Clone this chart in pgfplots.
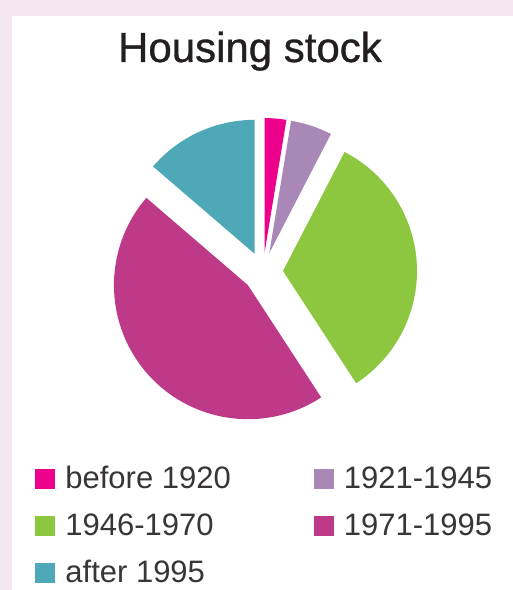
\documentclass[border=0pt]{standalone}
\usepackage{fontspec}
\setmainfont{Liberation Sans}
\newfontfamily\titlefont{Liberation Sans}[FakeBold=0.8]
\usepackage{pgfplots}
\usepackage{pgfplotstable}
\pgfplotsset{compat=1.18}

\definecolor{bgpink}{HTML}{F4E7F2}
\definecolor{txt}{HTML}{231F20}
\definecolor{c1}{HTML}{EC008C}
\definecolor{c2}{HTML}{A988B8}
\definecolor{c3}{HTML}{8DC63F}
\definecolor{c4}{HTML}{BE3A88}
\definecolor{c5}{HTML}{4FA8B8}

% share of housing stock by construction period (%)
\pgfplotstableread{
share colour
2.6   c1
5.0   c2
33.2  c3
45.5  c4
13.7  c5
}\housing

\begin{document}
\begin{tikzpicture}
\begin{axis}[
    at={(0,0)}, anchor=south west,
    scale only axis, width=256.5pt, height=295pt,
    xmin=0, xmax=513, ymin=0, ymax=590,
    hide axis, clip=false,
    title={Housing stock},
    title style={at={(0.4873,0.8746)}, anchor=base, font=\titlefont\fontsize{21}{25}\selectfont, text=txt, inner sep=0pt},
    legend columns=2,
    legend cell align=left,
    legend image code/.code={\fill[draw=none,#1] (0pt,-5pt) rectangle (10pt,5pt);},
    legend style={draw=none, fill=none, inner sep=0pt,
        at={(axis cs:35,128)}, anchor=north west,
        font=\fontsize{15.5}{18}\selectfont, text=txt!90,
        row sep=7pt,
        /tikz/every odd column/.append style={column sep=3pt},
        /tikz/every even column/.append style={column sep=39.5pt}},
]
\fill[bgpink] (axis cs:0,0) rectangle (axis cs:513,590);
\fill[white] (axis cs:12,0) rectangle (axis cs:513,574);

\pgfplotsextra{
  \coordinate (C) at (axis cs:263,318);
  \gdef\cum{0}
  \foreach \i in {0,...,4} {
    \pgfplotstablegetelem{\i}{share}\of\housing \let\v\pgfplotsretval
    \pgfplotstablegetelem{\i}{colour}\of\housing \let\col\pgfplotsretval
    \pgfmathsetmacro\aa{90-3.6*\cum}
    \pgfmathsetmacro\ab{90-3.6*(\cum+\v)}
    \pgfmathsetmacro\am{(\aa+\ab)/2}
    \fill[fill=\col] ([shift={(\am:10pt)}]C) -- ++(\aa:67pt)
        arc[start angle=\aa, end angle=\ab, radius=67pt] -- cycle;
    \pgfmathsetmacro\newcum{\cum+\v}
    \global\let\cum\newcum
  }
}

\addlegendimage{fill=c1}
\addlegendentry{before 1920}
\addlegendimage{fill=c2}
\addlegendentry{1921-1945}
\addlegendimage{fill=c3}
\addlegendentry{1946-1970}
\addlegendimage{fill=c4}
\addlegendentry{1971-1995}
\addlegendimage{fill=c5}
\addlegendentry{after 1995}
\end{axis}
\pgfresetboundingbox
\path (0,0) rectangle (256.5pt,295pt);
\end{tikzpicture}
\end{document}
